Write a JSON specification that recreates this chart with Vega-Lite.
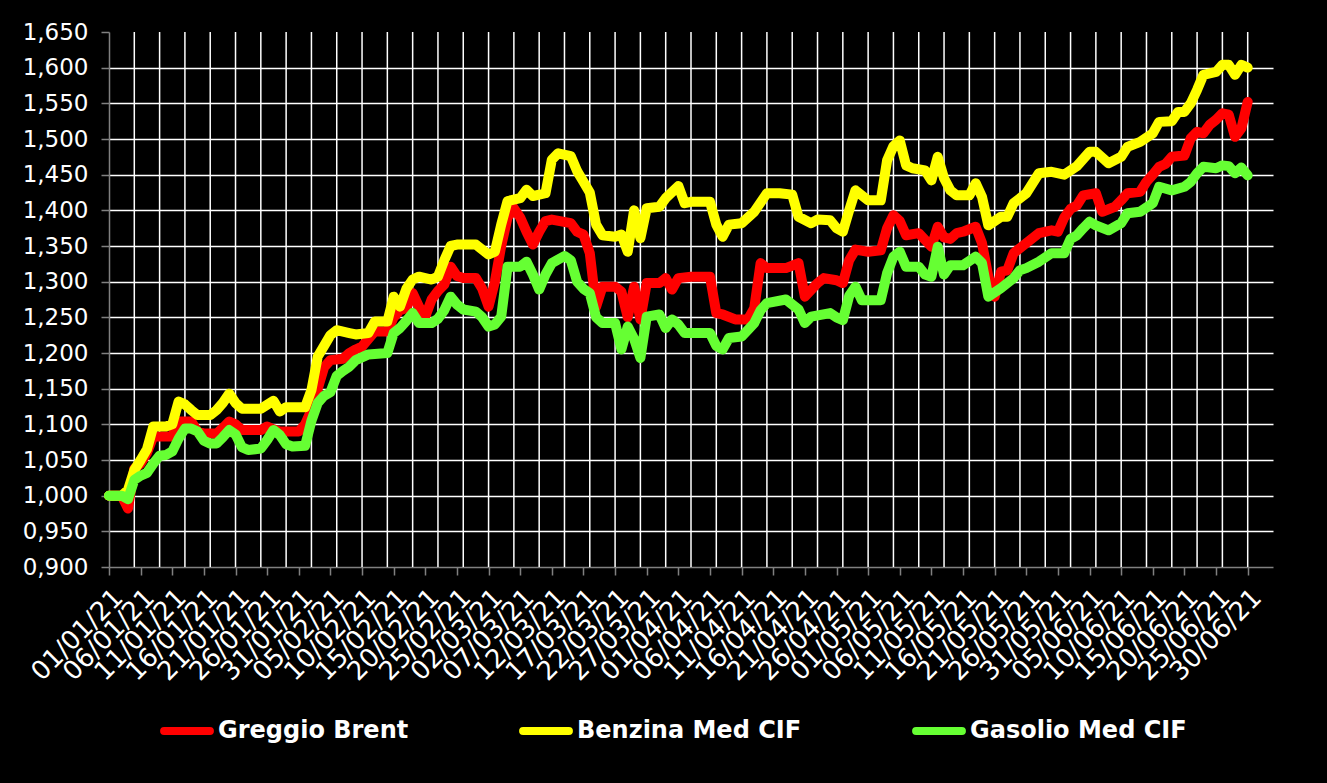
{
"$schema": "https://vega.github.io/schema/vega-lite/v6.json",
"width": 1164, "height": 535,
"autosize": {"type": "none"},
"padding": {"left": 109, "top": 32, "right": 54, "bottom": 216},
"background": "black",
"config": {"view": {"stroke": null}, "font": "DejaVu Sans"},
"datasets": {
"grid": [{"t":"2021-01-05"},{"t":"2021-01-09"},{"t":"2021-01-13"},{"t":"2021-01-17"},{"t":"2021-01-21"},{"t":"2021-01-25"},{"t":"2021-01-29"},{"t":"2021-02-02"},{"t":"2021-02-06"},{"t":"2021-02-10"},{"t":"2021-02-14"},{"t":"2021-02-18"},{"t":"2021-02-22"},{"t":"2021-02-26"},{"t":"2021-03-02"},{"t":"2021-03-06"},{"t":"2021-03-10"},{"t":"2021-03-14"},{"t":"2021-03-18"},{"t":"2021-03-22"},{"t":"2021-03-26"},{"t":"2021-03-30"},{"t":"2021-04-03"},{"t":"2021-04-07"},{"t":"2021-04-11"},{"t":"2021-04-15"},{"t":"2021-04-19"},{"t":"2021-04-23"},{"t":"2021-04-27"},{"t":"2021-05-01"},{"t":"2021-05-05"},{"t":"2021-05-09"},{"t":"2021-05-13"},{"t":"2021-05-17"},{"t":"2021-05-21"},{"t":"2021-05-25"},{"t":"2021-05-29"},{"t":"2021-06-02"},{"t":"2021-06-06"},{"t":"2021-06-10"},{"t":"2021-06-14"},{"t":"2021-06-18"},{"t":"2021-06-22"},{"t":"2021-06-26"},{"t":"2021-06-30"}],
"r": [{"t":"2021-01-01","v":1.0},{"t":"2021-01-03","v":1.0},{"t":"2021-01-04","v":0.982},{"t":"2021-01-05","v":1.038},{"t":"2021-01-06","v":1.045},{"t":"2021-01-07","v":1.06},{"t":"2021-01-08","v":1.083},{"t":"2021-01-11","v":1.083},{"t":"2021-01-12","v":1.104},{"t":"2021-01-14","v":1.104},{"t":"2021-01-15","v":1.09},{"t":"2021-01-16","v":1.087},{"t":"2021-01-18","v":1.087},{"t":"2021-01-19","v":1.095},{"t":"2021-01-20","v":1.104},{"t":"2021-01-21","v":1.1},{"t":"2021-01-22","v":1.092},{"t":"2021-01-25","v":1.092},{"t":"2021-01-26","v":1.097},{"t":"2021-01-27","v":1.093},{"t":"2021-01-28","v":1.09},{"t":"2021-01-31","v":1.09},{"t":"2021-02-01","v":1.1},{"t":"2021-02-02","v":1.12},{"t":"2021-02-03","v":1.15},{"t":"2021-02-04","v":1.18},{"t":"2021-02-05","v":1.19},{"t":"2021-02-07","v":1.192},{"t":"2021-02-08","v":1.2},{"t":"2021-02-09","v":1.205},{"t":"2021-02-10","v":1.209},{"t":"2021-02-12","v":1.23},{"t":"2021-02-14","v":1.23},{"t":"2021-02-15","v":1.25},{"t":"2021-02-16","v":1.26},{"t":"2021-02-17","v":1.263},{"t":"2021-02-18","v":1.284},{"t":"2021-02-19","v":1.265},{"t":"2021-02-20","v":1.251},{"t":"2021-02-21","v":1.275},{"t":"2021-02-22","v":1.287},{"t":"2021-02-23","v":1.296},{"t":"2021-02-24","v":1.321},{"t":"2021-02-25","v":1.308},{"t":"2021-02-26","v":1.305},{"t":"2021-02-28","v":1.305},{"t":"2021-03-01","v":1.29},{"t":"2021-03-02","v":1.265},{"t":"2021-03-03","v":1.3},{"t":"2021-03-04","v":1.35},{"t":"2021-03-05","v":1.39},{"t":"2021-03-06","v":1.403},{"t":"2021-03-07","v":1.39},{"t":"2021-03-08","v":1.37},{"t":"2021-03-09","v":1.352},{"t":"2021-03-10","v":1.37},{"t":"2021-03-11","v":1.385},{"t":"2021-03-12","v":1.387},{"t":"2021-03-15","v":1.382},{"t":"2021-03-16","v":1.37},{"t":"2021-03-17","v":1.366},{"t":"2021-03-18","v":1.34},{"t":"2021-03-19","v":1.265},{"t":"2021-03-20","v":1.293},{"t":"2021-03-22","v":1.293},{"t":"2021-03-23","v":1.286},{"t":"2021-03-24","v":1.25},{"t":"2021-03-25","v":1.293},{"t":"2021-03-26","v":1.247},{"t":"2021-03-27","v":1.298},{"t":"2021-03-29","v":1.298},{"t":"2021-03-30","v":1.305},{"t":"2021-03-31","v":1.289},{"t":"2021-04-01","v":1.305},{"t":"2021-04-03","v":1.307},{"t":"2021-04-06","v":1.307},{"t":"2021-04-07","v":1.256},{"t":"2021-04-08","v":1.254},{"t":"2021-04-10","v":1.247},{"t":"2021-04-12","v":1.247},{"t":"2021-04-13","v":1.263},{"t":"2021-04-14","v":1.326},{"t":"2021-04-15","v":1.319},{"t":"2021-04-18","v":1.319},{"t":"2021-04-20","v":1.326},{"t":"2021-04-21","v":1.279},{"t":"2021-04-23","v":1.298},{"t":"2021-04-24","v":1.305},{"t":"2021-04-26","v":1.302},{"t":"2021-04-27","v":1.298},{"t":"2021-04-28","v":1.33},{"t":"2021-04-29","v":1.345},{"t":"2021-05-01","v":1.342},{"t":"2021-05-03","v":1.344},{"t":"2021-05-04","v":1.375},{"t":"2021-05-05","v":1.393},{"t":"2021-05-06","v":1.385},{"t":"2021-05-07","v":1.365},{"t":"2021-05-09","v":1.368},{"t":"2021-05-11","v":1.349},{"t":"2021-05-12","v":1.377},{"t":"2021-05-13","v":1.362},{"t":"2021-05-14","v":1.36},{"t":"2021-05-15","v":1.368},{"t":"2021-05-16","v":1.37},{"t":"2021-05-18","v":1.377},{"t":"2021-05-19","v":1.354},{"t":"2021-05-20","v":1.307},{"t":"2021-05-21","v":1.279},{"t":"2021-05-22","v":1.314},{"t":"2021-05-23","v":1.316},{"t":"2021-05-24","v":1.34},{"t":"2021-05-26","v":1.354},{"t":"2021-05-28","v":1.368},{"t":"2021-05-30","v":1.372},{"t":"2021-05-31","v":1.37},{"t":"2021-06-01","v":1.39},{"t":"2021-06-02","v":1.402},{"t":"2021-06-03","v":1.407},{"t":"2021-06-04","v":1.421},{"t":"2021-06-06","v":1.424},{"t":"2021-06-07","v":1.398},{"t":"2021-06-09","v":1.405},{"t":"2021-06-10","v":1.414},{"t":"2021-06-11","v":1.424},{"t":"2021-06-13","v":1.426},{"t":"2021-06-14","v":1.44},{"t":"2021-06-15","v":1.45},{"t":"2021-06-16","v":1.461},{"t":"2021-06-17","v":1.465},{"t":"2021-06-18","v":1.475},{"t":"2021-06-20","v":1.477},{"t":"2021-06-21","v":1.501},{"t":"2021-06-22","v":1.51},{"t":"2021-06-23","v":1.508},{"t":"2021-06-24","v":1.52},{"t":"2021-06-25","v":1.527},{"t":"2021-06-26","v":1.536},{"t":"2021-06-27","v":1.534},{"t":"2021-06-28","v":1.503},{"t":"2021-06-29","v":1.515},{"t":"2021-06-30","v":1.552}],
"b": [{"t":"2021-01-01","v":1.0},{"t":"2021-01-03","v":1.0},{"t":"2021-01-04","v":1.008},{"t":"2021-01-05","v":1.036},{"t":"2021-01-06","v":1.05},{"t":"2021-01-07","v":1.065},{"t":"2021-01-08","v":1.097},{"t":"2021-01-10","v":1.097},{"t":"2021-01-11","v":1.1},{"t":"2021-01-12","v":1.132},{"t":"2021-01-13","v":1.128},{"t":"2021-01-14","v":1.12},{"t":"2021-01-15","v":1.113},{"t":"2021-01-17","v":1.113},{"t":"2021-01-18","v":1.12},{"t":"2021-01-19","v":1.13},{"t":"2021-01-20","v":1.143},{"t":"2021-01-21","v":1.13},{"t":"2021-01-22","v":1.122},{"t":"2021-01-25","v":1.122},{"t":"2021-01-27","v":1.133},{"t":"2021-01-28","v":1.118},{"t":"2021-01-29","v":1.124},{"t":"2021-02-01","v":1.124},{"t":"2021-02-02","v":1.148},{"t":"2021-02-03","v":1.195},{"t":"2021-02-04","v":1.21},{"t":"2021-02-05","v":1.225},{"t":"2021-02-06","v":1.232},{"t":"2021-02-08","v":1.228},{"t":"2021-02-09","v":1.226},{"t":"2021-02-11","v":1.228},{"t":"2021-02-12","v":1.244},{"t":"2021-02-14","v":1.244},{"t":"2021-02-15","v":1.279},{"t":"2021-02-16","v":1.265},{"t":"2021-02-17","v":1.29},{"t":"2021-02-18","v":1.303},{"t":"2021-02-19","v":1.307},{"t":"2021-02-21","v":1.303},{"t":"2021-02-22","v":1.307},{"t":"2021-02-23","v":1.33},{"t":"2021-02-24","v":1.35},{"t":"2021-02-25","v":1.352},{"t":"2021-02-28","v":1.352},{"t":"2021-03-02","v":1.338},{"t":"2021-03-03","v":1.342},{"t":"2021-03-04","v":1.38},{"t":"2021-03-05","v":1.413},{"t":"2021-03-07","v":1.417},{"t":"2021-03-08","v":1.429},{"t":"2021-03-09","v":1.42},{"t":"2021-03-11","v":1.424},{"t":"2021-03-12","v":1.471},{"t":"2021-03-13","v":1.48},{"t":"2021-03-15","v":1.476},{"t":"2021-03-16","v":1.455},{"t":"2021-03-17","v":1.44},{"t":"2021-03-18","v":1.425},{"t":"2021-03-19","v":1.38},{"t":"2021-03-20","v":1.365},{"t":"2021-03-22","v":1.363},{"t":"2021-03-23","v":1.366},{"t":"2021-03-24","v":1.342},{"t":"2021-03-25","v":1.4},{"t":"2021-03-26","v":1.361},{"t":"2021-03-27","v":1.403},{"t":"2021-03-29","v":1.405},{"t":"2021-03-30","v":1.417},{"t":"2021-04-01","v":1.434},{"t":"2021-04-02","v":1.41},{"t":"2021-04-03","v":1.412},{"t":"2021-04-06","v":1.412},{"t":"2021-04-07","v":1.38},{"t":"2021-04-08","v":1.363},{"t":"2021-04-09","v":1.38},{"t":"2021-04-11","v":1.382},{"t":"2021-04-13","v":1.398},{"t":"2021-04-15","v":1.424},{"t":"2021-04-17","v":1.424},{"t":"2021-04-19","v":1.422},{"t":"2021-04-20","v":1.391},{"t":"2021-04-22","v":1.382},{"t":"2021-04-23","v":1.387},{"t":"2021-04-25","v":1.386},{"t":"2021-04-26","v":1.375},{"t":"2021-04-27","v":1.37},{"t":"2021-04-28","v":1.4},{"t":"2021-04-29","v":1.428},{"t":"2021-05-01","v":1.414},{"t":"2021-05-03","v":1.414},{"t":"2021-05-04","v":1.47},{"t":"2021-05-05","v":1.49},{"t":"2021-05-06","v":1.498},{"t":"2021-05-07","v":1.463},{"t":"2021-05-08","v":1.459},{"t":"2021-05-10","v":1.456},{"t":"2021-05-11","v":1.442},{"t":"2021-05-12","v":1.475},{"t":"2021-05-13","v":1.445},{"t":"2021-05-14","v":1.428},{"t":"2021-05-15","v":1.421},{"t":"2021-05-17","v":1.421},{"t":"2021-05-18","v":1.438},{"t":"2021-05-19","v":1.419},{"t":"2021-05-20","v":1.379},{"t":"2021-05-22","v":1.391},{"t":"2021-05-23","v":1.391},{"t":"2021-05-24","v":1.41},{"t":"2021-05-26","v":1.424},{"t":"2021-05-28","v":1.452},{"t":"2021-05-30","v":1.454},{"t":"2021-06-01","v":1.45},{"t":"2021-06-02","v":1.456},{"t":"2021-06-03","v":1.462},{"t":"2021-06-05","v":1.482},{"t":"2021-06-06","v":1.482},{"t":"2021-06-08","v":1.466},{"t":"2021-06-10","v":1.475},{"t":"2021-06-11","v":1.489},{"t":"2021-06-13","v":1.496},{"t":"2021-06-15","v":1.508},{"t":"2021-06-16","v":1.524},{"t":"2021-06-18","v":1.525},{"t":"2021-06-19","v":1.538},{"t":"2021-06-20","v":1.538},{"t":"2021-06-21","v":1.55},{"t":"2021-06-22","v":1.569},{"t":"2021-06-23","v":1.59},{"t":"2021-06-25","v":1.594},{"t":"2021-06-26","v":1.604},{"t":"2021-06-27","v":1.604},{"t":"2021-06-28","v":1.59},{"t":"2021-06-29","v":1.604},{"t":"2021-06-30","v":1.6}],
"g": [{"t":"2021-01-01","v":1.0},{"t":"2021-01-03","v":1.0},{"t":"2021-01-04","v":0.995},{"t":"2021-01-05","v":1.022},{"t":"2021-01-06","v":1.028},{"t":"2021-01-07","v":1.032},{"t":"2021-01-08","v":1.045},{"t":"2021-01-09","v":1.056},{"t":"2021-01-10","v":1.057},{"t":"2021-01-11","v":1.062},{"t":"2021-01-12","v":1.08},{"t":"2021-01-13","v":1.094},{"t":"2021-01-14","v":1.094},{"t":"2021-01-15","v":1.09},{"t":"2021-01-16","v":1.077},{"t":"2021-01-17","v":1.073},{"t":"2021-01-18","v":1.073},{"t":"2021-01-19","v":1.082},{"t":"2021-01-20","v":1.092},{"t":"2021-01-21","v":1.086},{"t":"2021-01-22","v":1.068},{"t":"2021-01-23","v":1.064},{"t":"2021-01-25","v":1.066},{"t":"2021-01-26","v":1.078},{"t":"2021-01-27","v":1.092},{"t":"2021-01-28","v":1.085},{"t":"2021-01-29","v":1.072},{"t":"2021-01-30","v":1.069},{"t":"2021-02-01","v":1.07},{"t":"2021-02-02","v":1.105},{"t":"2021-02-03","v":1.13},{"t":"2021-02-04","v":1.14},{"t":"2021-02-05","v":1.145},{"t":"2021-02-06","v":1.168},{"t":"2021-02-07","v":1.175},{"t":"2021-02-08","v":1.181},{"t":"2021-02-09","v":1.19},{"t":"2021-02-11","v":1.198},{"t":"2021-02-14","v":1.2},{"t":"2021-02-15","v":1.228},{"t":"2021-02-16","v":1.235},{"t":"2021-02-17","v":1.245},{"t":"2021-02-18","v":1.256},{"t":"2021-02-19","v":1.242},{"t":"2021-02-21","v":1.242},{"t":"2021-02-22","v":1.248},{"t":"2021-02-23","v":1.26},{"t":"2021-02-24","v":1.279},{"t":"2021-02-25","v":1.268},{"t":"2021-02-26","v":1.261},{"t":"2021-02-28","v":1.258},{"t":"2021-03-01","v":1.25},{"t":"2021-03-02","v":1.237},{"t":"2021-03-03","v":1.24},{"t":"2021-03-04","v":1.251},{"t":"2021-03-05","v":1.321},{"t":"2021-03-07","v":1.321},{"t":"2021-03-08","v":1.328},{"t":"2021-03-09","v":1.31},{"t":"2021-03-10","v":1.289},{"t":"2021-03-11","v":1.31},{"t":"2021-03-12","v":1.326},{"t":"2021-03-14","v":1.336},{"t":"2021-03-15","v":1.33},{"t":"2021-03-16","v":1.3},{"t":"2021-03-17","v":1.29},{"t":"2021-03-18","v":1.284},{"t":"2021-03-19","v":1.25},{"t":"2021-03-20","v":1.242},{"t":"2021-03-22","v":1.242},{"t":"2021-03-23","v":1.205},{"t":"2021-03-24","v":1.237},{"t":"2021-03-25","v":1.22},{"t":"2021-03-26","v":1.193},{"t":"2021-03-27","v":1.251},{"t":"2021-03-29","v":1.254},{"t":"2021-03-30","v":1.235},{"t":"2021-03-31","v":1.247},{"t":"2021-04-01","v":1.24},{"t":"2021-04-02","v":1.228},{"t":"2021-04-06","v":1.228},{"t":"2021-04-07","v":1.21},{"t":"2021-04-08","v":1.205},{"t":"2021-04-09","v":1.221},{"t":"2021-04-11","v":1.223},{"t":"2021-04-13","v":1.242},{"t":"2021-04-14","v":1.26},{"t":"2021-04-15","v":1.27},{"t":"2021-04-18","v":1.275},{"t":"2021-04-19","v":1.268},{"t":"2021-04-20","v":1.261},{"t":"2021-04-21","v":1.242},{"t":"2021-04-22","v":1.251},{"t":"2021-04-25","v":1.256},{"t":"2021-04-26","v":1.25},{"t":"2021-04-27","v":1.246},{"t":"2021-04-28","v":1.28},{"t":"2021-04-29","v":1.293},{"t":"2021-04-30","v":1.274},{"t":"2021-05-03","v":1.274},{"t":"2021-05-04","v":1.312},{"t":"2021-05-05","v":1.335},{"t":"2021-05-06","v":1.342},{"t":"2021-05-07","v":1.321},{"t":"2021-05-09","v":1.321},{"t":"2021-05-10","v":1.31},{"t":"2021-05-11","v":1.307},{"t":"2021-05-12","v":1.349},{"t":"2021-05-13","v":1.31},{"t":"2021-05-14","v":1.323},{"t":"2021-05-16","v":1.323},{"t":"2021-05-18","v":1.335},{"t":"2021-05-19","v":1.326},{"t":"2021-05-20","v":1.279},{"t":"2021-05-22","v":1.291},{"t":"2021-05-24","v":1.305},{"t":"2021-05-25","v":1.316},{"t":"2021-05-26","v":1.319},{"t":"2021-05-28","v":1.328},{"t":"2021-05-30","v":1.34},{"t":"2021-06-01","v":1.34},{"t":"2021-06-02","v":1.36},{"t":"2021-06-03","v":1.365},{"t":"2021-06-04","v":1.375},{"t":"2021-06-05","v":1.384},{"t":"2021-06-06","v":1.379},{"t":"2021-06-08","v":1.372},{"t":"2021-06-10","v":1.382},{"t":"2021-06-11","v":1.396},{"t":"2021-06-13","v":1.398},{"t":"2021-06-15","v":1.41},{"t":"2021-06-16","v":1.433},{"t":"2021-06-18","v":1.428},{"t":"2021-06-20","v":1.433},{"t":"2021-06-21","v":1.44},{"t":"2021-06-22","v":1.452},{"t":"2021-06-23","v":1.461},{"t":"2021-06-25","v":1.459},{"t":"2021-06-26","v":1.463},{"t":"2021-06-27","v":1.462},{"t":"2021-06-28","v":1.452},{"t":"2021-06-29","v":1.46},{"t":"2021-06-30","v":1.449}]
},
"encoding": {
"x": {"field": "t", "type": "temporal",
 "scale": {"type": "utc", "domain": [{"year": 2021, "month": 1, "date": 1, "utc": true}, {"year": 2021, "month": 7, "date": 4, "utc": true}]},
 "axis": {"title": null, "tickCount": {"interval": "day", "step": 1},
  "labelExpr": "(round((datum.value - utc(2021,0,1))/864e5) % 5 === 0) ? utcFormat(datum.value, '%d/%m/%y') : ''",
  "labelOverlap": false, "labelFlush": false, "labelBound": false,
  "labelAngle": -45, "labelAlign": "right", "labelBaseline": "top",
  "labelFontSize": 26, "labelColor": "white", "labelPadding": 9, "labelFont": "DejaVu Sans",
  "grid": false,
  "tickSize": 8, "tickColor": "#808080", "tickWidth": 1.5,
  "tickOpacity": {"condition": {"test": "round((datum.value - utc(2021,0,1))/864e5) % 5 !== 0", "value": 0}, "value": 1},
  "domainColor": "#808080", "domainWidth": 1.5}}
},
"layer": [
{"data": {"name": "grid"}, "mark": {"type": "rule", "color": "white", "strokeWidth": 1.5}},
{"data": {"name": "r"}, "mark": {"type": "line", "strokeWidth": 10, "strokeCap": "round", "strokeJoin": "round"},
 "encoding": {
  "y": {"field": "v", "type": "quantitative", "scale": {"domain": [0.9, 1.65], "zero": false, "nice": false},
   "axis": {"title": null, "values": [0.9, 0.95, 1.0, 1.05, 1.1, 1.15, 1.2, 1.25, 1.3, 1.35, 1.4, 1.45, 1.5, 1.55, 1.6, 1.65],
    "labelExpr": "replace(format(datum.value, '.3f'), '.', ',')",
    "labelFontSize": 23, "labelColor": "white", "labelPadding": 13, "labelFont": "DejaVu Sans",
    "tickSize": 8, "tickColor": "#808080", "tickWidth": 1.5, "domainColor": "#808080", "domainWidth": 1.5,
    "grid": true, "gridColor": "white", "gridWidth": 1.5,
    "gridOpacity": {"condition": {"test": "datum.value > 1.64 || datum.value < 0.91", "value": 0}, "value": 1}}},
  "color": {"datum": "Greggio Brent", "type": "nominal",
  "scale": {"domain": ["Greggio Brent", "Benzina Med CIF", "Gasolio Med CIF"], "range": ["#FF0000", "#FFFF00", "#66FF33"]},
  "legend": {"orient": "none", "legendX": 51, "legendY": 672, "direction": "horizontal", "title": null,
   "symbolType": "stroke", "symbolSize": 2100, "symbolStrokeWidth": 8, "symbolOpacity": 1,
   "labelFontSize": 24, "labelFontWeight": "bold", "labelColor": "white", "labelFont": "DejaVu Sans",
   "columnPadding": 98, "labelOffset": 4, "labelLimit": 400,
   "encode": {"symbols": {"update": {"strokeCap": {"value": "round"}}}}}}}},
{"data": {"name": "b"}, "mark": {"type": "line", "strokeWidth": 10, "strokeCap": "round", "strokeJoin": "round"},
 "encoding": {
  "y": {"field": "v", "type": "quantitative", "scale": {"domain": [0.9, 1.65], "zero": false, "nice": false},
   "axis": {"title": null, "values": [0.9, 0.95, 1.0, 1.05, 1.1, 1.15, 1.2, 1.25, 1.3, 1.35, 1.4, 1.45, 1.5, 1.55, 1.6, 1.65],
    "labelExpr": "replace(format(datum.value, '.3f'), '.', ',')",
    "labelFontSize": 23, "labelColor": "white", "labelPadding": 13, "labelFont": "DejaVu Sans",
    "tickSize": 8, "tickColor": "#808080", "tickWidth": 1.5, "domainColor": "#808080", "domainWidth": 1.5,
    "grid": true, "gridColor": "white", "gridWidth": 1.5,
    "gridOpacity": {"condition": {"test": "datum.value > 1.64 || datum.value < 0.91", "value": 0}, "value": 1}}},
  "color": {"datum": "Benzina Med CIF", "type": "nominal"}}},
{"data": {"name": "g"}, "mark": {"type": "line", "strokeWidth": 10, "strokeCap": "round", "strokeJoin": "round"},
 "encoding": {
  "y": {"field": "v", "type": "quantitative", "scale": {"domain": [0.9, 1.65], "zero": false, "nice": false},
   "axis": {"title": null, "values": [0.9, 0.95, 1.0, 1.05, 1.1, 1.15, 1.2, 1.25, 1.3, 1.35, 1.4, 1.45, 1.5, 1.55, 1.6, 1.65],
    "labelExpr": "replace(format(datum.value, '.3f'), '.', ',')",
    "labelFontSize": 23, "labelColor": "white", "labelPadding": 13, "labelFont": "DejaVu Sans",
    "tickSize": 8, "tickColor": "#808080", "tickWidth": 1.5, "domainColor": "#808080", "domainWidth": 1.5,
    "grid": true, "gridColor": "white", "gridWidth": 1.5,
    "gridOpacity": {"condition": {"test": "datum.value > 1.64 || datum.value < 0.91", "value": 0}, "value": 1}}},
  "color": {"datum": "Gasolio Med CIF", "type": "nominal"}}}
]
}
